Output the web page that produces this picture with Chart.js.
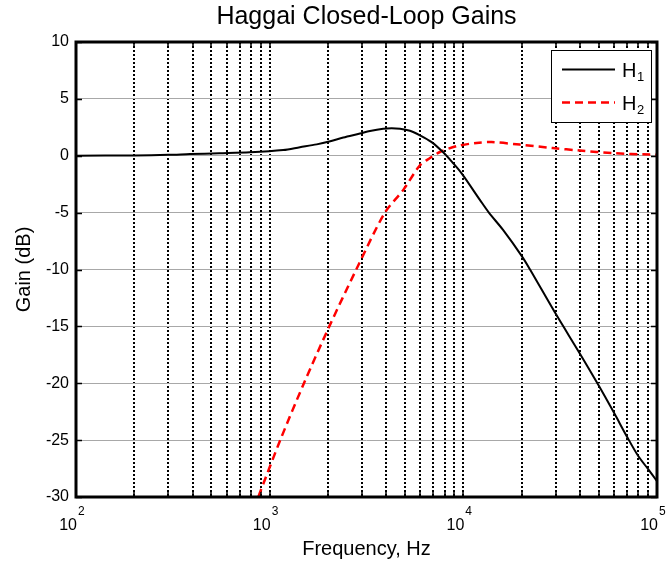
<!DOCTYPE html>
<html>
<head>
<meta charset="utf-8">
<script src="https://cdn.jsdelivr.net/npm/chart.js@4/dist/chart.umd.min.js"></script>
<style>
html,body{margin:0;padding:0;background:#fff;}
#c{display:block;}
</style>
</head>
<body>
<canvas id="c" width="667" height="562"></canvas>
<script>
// ---- data ----
const chartTitle = 'Haggai Closed-Loop Gains';
const xAxisTitle = 'Frequency, Hz';
const yAxisTitle = 'Gain (dB)';
const seriesNames = ['H', 'H'];
const seriesSubs = ['1', '2'];

const freqH1 = [100, 200, 300, 388, 550, 791, 1175, 1432, 1750, 2032, 2401, 2925, 3295, 3857, 4265, 4709, 5300, 5970, 6858, 7870, 8800, 9800, 12200, 13550, 16000, 20000, 22100, 30000, 40000, 50000, 60000, 70000, 80000, 90000, 100000];
const gainH1 = [0, 0.03, 0.08, 0.15, 0.22, 0.3, 0.5, 0.75, 1.0, 1.25, 1.6, 1.95, 2.18, 2.38, 2.42, 2.38, 2.2, 1.8, 1.2, 0.3, -0.6, -1.55, -3.9, -5.0, -6.5, -8.8, -10, -13.9, -17.4, -20.2, -22.6, -24.7, -26.4, -27.55, -28.6];

const freqH2 = [700, 873, 1134, 1503, 2032, 2800, 3936, 4898, 5970, 6726, 7574, 9230, 11700, 13980, 19560, 28930, 40000, 59300, 91800, 100000];
const gainH2 = [-34.2, -30, -25, -20, -15, -10, -5, -3.0, -0.84, -0.2, 0.33, 0.84, 1.13, 1.2, 0.98, 0.68, 0.46, 0.23, 0.1, 0.08];

const xTickValues = [100, 200, 300, 400, 500, 600, 700, 800, 900,
  1000, 2000, 3000, 4000, 5000, 6000, 7000, 8000, 9000,
  10000, 20000, 30000, 40000, 50000, 60000, 70000, 80000, 90000, 100000];
const xMajorTicks = [100, 1000, 10000, 100000];
const xMajorExponents = ['2', '3', '4', '5'];
const yMin = -30, yMax = 10, yStep = 5;

const FONT = "'Liberation Sans', Arial, Helvetica, sans-serif";

const framePlugin = {
  id: 'frame',
  afterDraw(chart) {
    const ctx = chart.ctx;
    const a = chart.chartArea;
    const xs = chart.scales.x, ys = chart.scales.y;
    ctx.save();
    // inward tick marks
    ctx.strokeStyle = '#000';
    ctx.lineWidth = 1.5;
    ctx.beginPath();
    ys.ticks.forEach(t => {
      const y = Math.round(ys.getPixelForValue(t.value)) + 0.5;
      ctx.moveTo(a.left, y); ctx.lineTo(a.left + 6, y);
      ctx.moveTo(a.right, y); ctx.lineTo(a.right - 6, y);
    });
    xs.ticks.forEach(t => {
      const x = Math.round(xs.getPixelForValue(t.value));
      ctx.moveTo(x, a.top); ctx.lineTo(x, a.top + 5);
      ctx.moveTo(x, a.bottom); ctx.lineTo(x, a.bottom - 5);
    });
    ctx.stroke();
    // frame
    ctx.lineWidth = 3;
    ctx.strokeRect(a.left, a.top, a.right - a.left, a.bottom - a.top);

    // x tick labels with superscript exponents
    ctx.fillStyle = '#000';
    ctx.textBaseline = 'alphabetic';
    xMajorTicks.forEach((v, i) => {
      const x = xs.getPixelForValue(v);
      ctx.font = '16px ' + FONT;
      ctx.textAlign = 'right';
      ctx.fillText('10', x + 1, a.bottom + 33);
      ctx.font = '12px ' + FONT;
      ctx.textAlign = 'left';
      ctx.fillText(xMajorExponents[i], x + 2, a.bottom + 18);
    });

    // legend
    const lx = 551, ly = 50, lw = 100, lh = 72;
    ctx.fillStyle = '#fff';
    ctx.fillRect(lx, ly, lw, lh);
    ctx.lineWidth = 1;
    ctx.strokeStyle = '#000';
    ctx.strokeRect(lx + 0.5, ly + 0.5, lw, lh);
    const rows = [69.5, 102.5];
    chart.data.datasets.forEach((ds, i) => {
      const y = rows[i];
      ctx.save();
      ctx.strokeStyle = ds.borderColor;
      ctx.lineWidth = ds.borderWidth;
      ctx.setLineDash(ds.borderDash || []);
      ctx.beginPath();
      ctx.moveTo(562, y); ctx.lineTo(615, y);
      ctx.stroke();
      ctx.restore();
      ctx.fillStyle = '#000';
      ctx.textAlign = 'left';
      ctx.font = '20px ' + FONT;
      ctx.fillText(seriesNames[i], 622, y + 7);
      const w = ctx.measureText(seriesNames[i]).width;
      ctx.font = '13px ' + FONT;
      ctx.fillText(seriesSubs[i], 622 + w + 0.5, y + 11);
    });
    ctx.restore();
  }
};

const toPts = (xs, ys) => xs.map((x, i) => ({x: x, y: ys[i]}));

new Chart(document.getElementById('c'), {
  type: 'line',
  data: {
    datasets: [
      {
        label: 'H1',
        data: toPts(freqH1, gainH1),
        borderColor: '#000000',
        borderWidth: 2,
        pointRadius: 0,
        fill: false,
        tension: 0.3
      },
      {
        label: 'H2',
        data: toPts(freqH2, gainH2),
        borderColor: '#ff0000',
        borderWidth: 2.5,
        borderDash: [8, 5],
        pointRadius: 0,
        fill: false,
        tension: 0.3
      }
    ]
  },
  options: {
    responsive: false,
    animation: false,
    devicePixelRatio: 1,
    layout: {padding: {left: 0, right: 10, top: 0, bottom: 0}},
    plugins: {
      legend: {display: false},
      tooltip: {enabled: false},
      title: {
        display: true,
        fullSize: false,
        text: chartTitle,
        color: '#000',
        font: {family: FONT, size: 25, weight: 'normal'},
        padding: {top: 2, bottom: 10}
      }
    },
    scales: {
      x: {
        type: 'logarithmic',
        min: 100,
        max: 100000,
        afterBuildTicks: s => { s.ticks = xTickValues.map(v => ({value: v})); },
        afterFit: s => { s.height = 65; },
        ticks: {display: false},
        grid: {color: '#000', lineWidth: 2, drawTicks: false},
        border: {display: false, dash: [2, 2]},
        title: {
          display: true, text: xAxisTitle, color: '#000',
          font: {family: FONT, size: 20, weight: 'normal'},
          padding: {top: 0, bottom: 1}
        }
      },
      y: {
        type: 'linear',
        min: yMin,
        max: yMax,
        afterFit: s => { s.width = 76; },
        ticks: {stepSize: yStep, color: '#000', padding: 7, font: {family: FONT, size: 16}},
        grid: {color: '#a8a8a8', lineWidth: 1, drawTicks: false},
        border: {display: false},
        title: {
          display: true, text: yAxisTitle, color: '#000',
          font: {family: FONT, size: 20, weight: 'normal'},
          padding: {top: 12, bottom: 0}
        }
      }
    }
  },
  plugins: [framePlugin]
});
</script>
</body>
</html>
